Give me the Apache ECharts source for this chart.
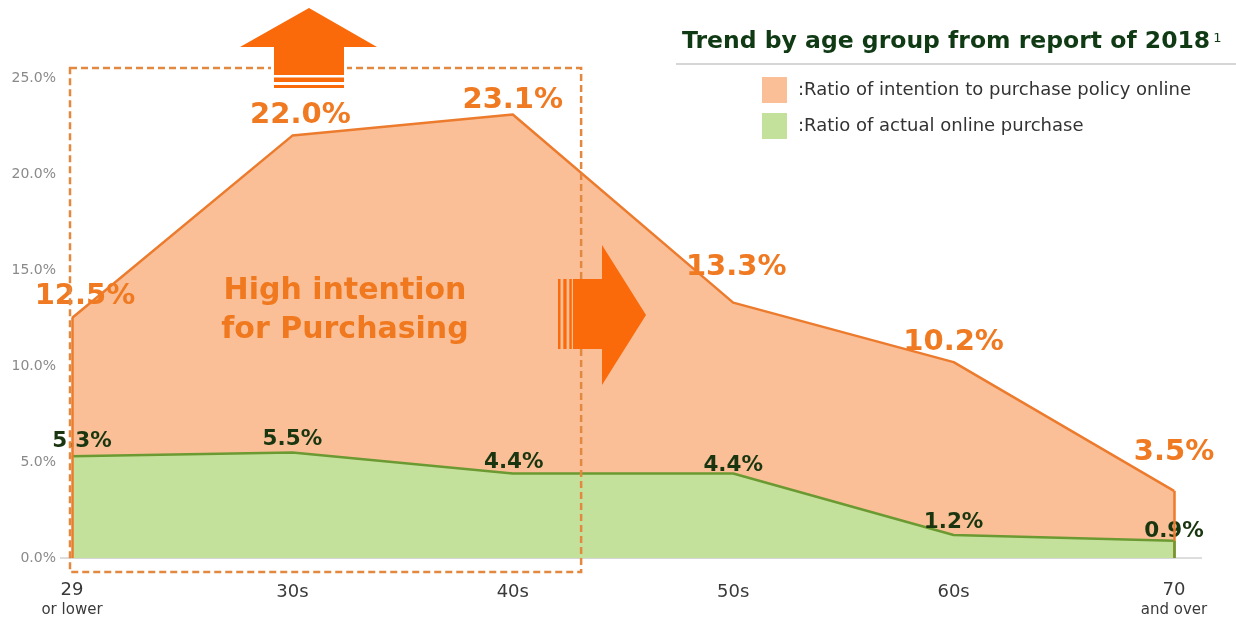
<!DOCTYPE html>
<html>
<head>
<meta charset="utf-8">
<script src="https://cdn.jsdelivr.net/npm/echarts@6/dist/echarts.min.js"></script>
<style>
  html, body { margin: 0; padding: 0; background: #ffffff; }
  #chart { width: 1236px; height: 619px; }
</style>
</head>
<body>
<div id="chart"></div>
<script>
// Age groups along the x axis
const categories = ['29\nor lower', '30s', '40s', '50s', '60s', '70\nand over'];
// Share (%) intending to buy a policy online, by age group
const intention = [12.5, 22.0, 23.1, 13.3, 10.2, 3.5];
// Share (%) that actually bought online, by age group
const actual = [5.3, 5.5, 4.4, 4.4, 1.2, 0.9];
// Y axis tick values (%)
const yTicks = [0, 5, 10, 15, 20, 25];
const seriesNames = ['Ratio of intention to purchase policy online', 'Ratio of actual online purchase'];

// Label nudges (px) around each point, kept apart from the data
const intentionLabelShift = [[13, -22], [8, -20], [0, -14], [3, -35], [0, -20], [0, -38]];
const actualLabelShift = [[10, -15], [0, -13], [1, -11], [0, -8], [0, -13], [0, -9]];

const FONT = 'DejaVu Sans';
const ORANGE_FILL = '#FABF97';
const ORANGE_LINE = '#EC7B2D';
const ORANGE_TEXT = '#F07A22';
const GREEN_FILL = '#C4E19C';
const GREEN_LINE = '#6A9A31';
const GREEN_TEXT = '#1A3610';
const ARROW = '#FA6A0A';

const chart = echarts.init(document.getElementById('chart'), null, { renderer: 'canvas' });

const option = {
  animation: false,
  backgroundColor: '#ffffff',
  grid: { left: 72, right: 62, top: 78, bottom: 61, outerBoundsMode: 'none' },
  legend: {
    orient: 'vertical',
    left: 757,
    top: 72,
    itemWidth: 25,
    itemHeight: 26,
    itemGap: 10,
    selectedMode: false,
    formatter: name => ':' + name,
    textStyle: { fontFamily: FONT, fontSize: 18, color: '#333333', padding: [0, 0, 0, 6] },
    data: [
      { name: seriesNames[0], icon: 'rect', itemStyle: { color: ORANGE_FILL, borderWidth: 0 } },
      { name: seriesNames[1], icon: 'rect', itemStyle: { color: GREEN_FILL, borderWidth: 0 } }
    ]
  },
  xAxis: {
    type: 'category',
    boundaryGap: false,
    data: categories,
    axisLine: { show: true, lineStyle: { color: '#d2d2d2', width: 1.5 } },
    axisTick: { show: false },
    axisLabel: {
      margin: 22,
      color: '#3a3a3a',
      fontFamily: FONT,
      formatter: v => {
        const parts = v.split('\n');
        return parts.length > 1 ? '{a|' + parts[0] + '}\n{b|' + parts[1] + '}' : '{c|' + v + '}';
      },
      rich: {
        a: { fontFamily: FONT, fontSize: 18, lineHeight: 20, color: '#3a3a3a' },
        b: { fontFamily: FONT, fontSize: 15, lineHeight: 20, color: '#3a3a3a' },
        c: { fontFamily: FONT, fontSize: 18, lineHeight: 20, color: '#3a3a3a', padding: [5, 0, 0, 0] }
      }
    }
  },
  yAxis: {
    type: 'value',
    min: yTicks[0],
    max: yTicks[yTicks.length - 1],
    interval: yTicks[1] - yTicks[0],
    axisLine: { show: false },
    axisTick: { show: false },
    splitLine: { show: false },
    axisLabel: {
      margin: 16,
      color: '#8a8a8a',
      fontFamily: FONT,
      fontSize: 14,
      formatter: v => v.toFixed(1) + '%'
    }
  },
  series: [
    {
      name: seriesNames[0],
      type: 'line',
      z: 2,
      symbol: 'circle',
      symbolSize: 1,
      showSymbol: true,
      itemStyle: { color: ORANGE_LINE },
      lineStyle: { color: ORANGE_LINE, width: 2.5 },
      areaStyle: { color: ORANGE_FILL, opacity: 1 },
      data: intention.map((v, i) => ({
        value: v,
        label: { offset: intentionLabelShift[i] }
      })),
      label: {
        show: true,
        position: 'inside',
        formatter: p => p.value.toFixed(1) + '%',
        fontFamily: FONT,
        fontWeight: 'bold',
        fontSize: 29,
        color: ORANGE_TEXT
      },
      markLine: {
        silent: true,
        symbol: 'none',
        label: { show: false },
        lineStyle: { color: ORANGE_LINE, width: 2.5, type: 'solid' },
        data: [
          [{ coord: [categories[categories.length - 1], 0] }, { coord: [categories[categories.length - 1], intention[intention.length - 1]] }]
        ]
      }
    },
    {
      name: seriesNames[1],
      type: 'line',
      z: 3,
      symbol: 'circle',
      symbolSize: 1,
      showSymbol: true,
      itemStyle: { color: GREEN_LINE },
      lineStyle: { color: GREEN_LINE, width: 2.5 },
      areaStyle: { color: GREEN_FILL, opacity: 1 },
      data: actual.map((v, i) => ({
        value: v,
        label: { offset: actualLabelShift[i] }
      })),
      label: {
        show: true,
        position: 'inside',
        formatter: p => p.value.toFixed(1) + '%',
        fontFamily: FONT,
        fontWeight: 'bold',
        fontSize: 21.5,
        color: GREEN_TEXT
      },
      markLine: {
        silent: true,
        symbol: 'none',
        label: { show: false },
        data: [
          [{ coord: [categories[0], 0], lineStyle: { color: ORANGE_LINE, width: 2.5, type: 'solid' } },
           { coord: [categories[0], intention[0]] }],
          [{ coord: [categories[categories.length - 1], 0], lineStyle: { color: GREEN_LINE, width: 2.5, type: 'solid' } },
           { coord: [categories[categories.length - 1], actual[actual.length - 1]] }]
        ]
      }
    }
  ]
};

chart.setOption(option);

// Annotation layer: heading, divider, dashed focus box, arrows and callout text
const px = (xi, yv) => chart.convertToPixel({ gridIndex: 0 }, [xi, yv]);
const p0 = px(0, 0);
const pTop = px(0, 25);
const step = px(1, 0)[0] - p0[0];
const boxLeft = p0[0] - 2;
const boxRight = px(2, 0)[0] + step * 0.31;
const boxTop = pTop[1] - 10;
const boxBottom = p0[1] + 14;

chart.setOption({
  graphic: [
    // extended baseline
    { type: 'line', z: 1, shape: { x1: p0[0] - 12, y1: p0[1], x2: px(5, 0)[0] + 28, y2: p0[1] },
      style: { stroke: '#d2d2d2', lineWidth: 1.5 } },
    // heading with footnote mark
    { type: 'text', x: 682, y: 42, z: 10,
      style: {
        text: '{t|Trend by age group from report of 2018}{s|1}',
        verticalAlign: 'middle',
        rich: {
          t: { fontFamily: FONT, fontWeight: 'bold', fontSize: 23.5, fill: '#0F3A14', lineHeight: 28 },
          s: { fontFamily: FONT, fontSize: 13, fill: '#0F3A14', padding: [0, 0, 6, 3] }
        }
      } },
    { type: 'line', z: 10, shape: { x1: 676, y1: 64, x2: 1236, y2: 64 },
      style: { stroke: '#c9c9c9', lineWidth: 1.5 } },
    // dashed focus box over the younger age groups
    { type: 'rect', z: 20, shape: { x: boxLeft, y: boxTop, width: boxRight - boxLeft, height: boxBottom - boxTop },
      style: { fill: null, stroke: '#E2883F', lineWidth: 2.5, lineDash: [7, 4] } },
    // up arrow
    { type: 'rect', z: 21, shape: { x: 271, y: 63, width: 76, height: 27 }, style: { fill: '#ffffff' } },
    { type: 'polygon', z: 22,
      shape: { points: [[309, 8], [377, 47], [344, 47], [344, 75], [274, 75], [274, 47], [240, 47]] },
      style: { fill: ARROW } },
    { type: 'rect', z: 22, shape: { x: 274, y: 77.5, width: 70, height: 4.5 }, style: { fill: ARROW } },
    { type: 'rect', z: 22, shape: { x: 274, y: 85, width: 70, height: 3 }, style: { fill: ARROW } },
    // right arrow
    { type: 'polygon', z: 22,
      shape: { points: [[573, 279], [602, 279], [602, 245], [646, 315], [602, 385], [602, 349], [573, 349]] },
      style: { fill: ARROW } },
    { type: 'rect', z: 22, shape: { x: 558, y: 279, width: 2.5, height: 70 }, style: { fill: ARROW } },
    { type: 'rect', z: 22, shape: { x: 563.3, y: 279, width: 3.3, height: 70 }, style: { fill: ARROW } },
    { type: 'rect', z: 22, shape: { x: 569.3, y: 279, width: 2.5, height: 70 }, style: { fill: ARROW } },
    // callout
    { type: 'text', x: 345, y: 311, z: 22,
      style: { text: 'High intention\nfor Purchasing', fontFamily: FONT, fontWeight: 'bold', fontSize: 30,
               lineHeight: 39, fill: '#F0781E', align: 'center', verticalAlign: 'middle' } }
  ]
});
</script>
</body>
</html>
